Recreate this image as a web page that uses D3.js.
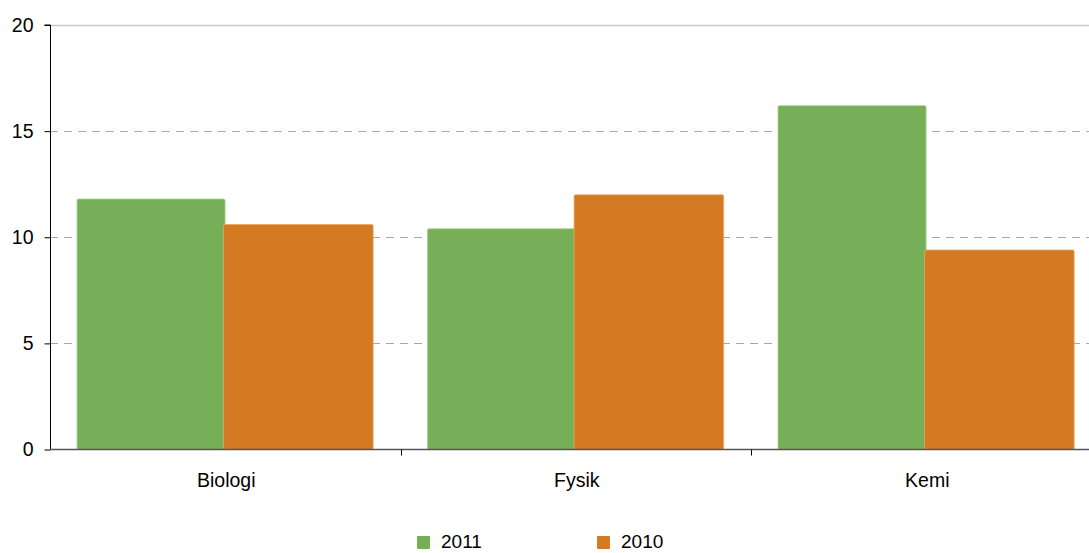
<!DOCTYPE html>
<html><head><meta charset="utf-8">
<script src="https://cdn.jsdelivr.net/npm/d3@7"></script>
<style>
html,body{margin:0;padding:0;background:#fff;overflow:hidden;}
svg text{font-family:"Liberation Sans",Arial,sans-serif;fill:#000;}
</style></head>
<body><svg id="c" width="1089" height="553"></svg>
<script>
const categories = ["Biologi", "Fysik", "Kemi"];
const seriesNames = ["2011", "2010"];
const values2011 = [11.8, 10.4, 16.2];
const values2010 = [10.6, 12.0, 9.4];
const yTicks = [0, 5, 10, 15, 20];
const colors = ["#76AF57", "#D47A23"];
const strokeColors = ["#A8D28F", "#E9A868"];

const svg = d3.select("#c");
const x0 = 50, x1 = 1101.5, yTop = 25, yBot = 449.5;
const y = d3.scaleLinear().domain([0, 20]).range([yBot, yTop]);
const xb = d3.scaleBand().domain(categories).range([x0, x1]).padding(0);
const bw = xb.bandwidth();
const xs = d3.scaleBand().domain(seriesNames).range([bw * 0.077, bw * 0.922]).padding(0);

// gridlines
svg.append("g").selectAll("line").data(yTicks.filter(d => d > 0)).join("line")
  .attr("x1", x0).attr("x2", 1089)
  .attr("y1", d => Math.round(y(d)) + 0.5).attr("y2", d => Math.round(y(d)) + 0.5)
  .attr("stroke", d => d === 20 ? "#c8c8c8" : "#a8a8a8")
  .attr("stroke-width", d => d === 20 ? 1.5 : 1)
  .attr("stroke-dasharray", d => d === 20 ? null : "8,6");

// bars
const data = categories.map((c, i) => ({cat: c, vals: [values2011[i], values2010[i]]}));
const g = svg.append("g");
data.forEach(d => {
  seriesNames.forEach((s, j) => {
    g.append("rect")
      .attr("x", xb(d.cat) + xs(s) - (j === 1 ? 1.5 : 0))
      .attr("y", y(d.vals[j]))
      .attr("width", xs.bandwidth() + (j === 1 ? 1.5 : 0))
      .attr("height", yBot - y(d.vals[j]))
      .attr("rx", 1.5)
      .attr("fill", colors[j])
      .attr("stroke", strokeColors[j]).attr("stroke-width", 0.8);
  });
});

// y axis
const yAxis = d3.axisLeft(y).tickValues(yTicks).tickSize(6).tickPadding(11).tickFormat(d3.format("d"));
const ya = svg.append("g").attr("transform", `translate(${x0 + 0.5},0)`).call(yAxis);
ya.select(".domain").attr("stroke", "#000").attr("d", `M-6,${yTop}H0V${yBot}`);
ya.selectAll(".tick line").attr("stroke", "#000");
ya.selectAll("text").attr("font-size", 19.5).attr("font-family", "Liberation Sans, Arial, sans-serif").attr("fill", "#000");

// x axis
const xa = svg.append("g").attr("transform", `translate(0,${yBot})`);
xa.append("line").attr("x1", x0).attr("x2", 1089).attr("y1", 0).attr("y2", 0)
  .attr("stroke", "#555").attr("stroke-width", 1.5);
xa.selectAll("line.t").data(categories.slice(1)).join("line").attr("class", "t")
  .attr("x1", d => Math.round(xb(d)) + 0.5).attr("x2", d => Math.round(xb(d)) + 0.5)
  .attr("y1", 0).attr("y2", 6).attr("stroke", "#000");
xa.selectAll("text").data(categories).join("text")
  .attr("x", d => xb(d) + bw / 2 + 1).attr("y", 37)
  .attr("text-anchor", "middle").attr("font-size", 19.5).text(d => d);

// legend
const legX = [417, 597];
const leg = svg.append("g");
seriesNames.forEach((s, j) => {
  leg.append("rect").attr("x", legX[j]).attr("y", 536).attr("width", 13).attr("height", 13)
    .attr("rx", 1).attr("fill", colors[j]);
  leg.append("text").attr("x", legX[j] + 24).attr("y", 548).attr("font-size", 19).text(s);
});
</script></body></html>
